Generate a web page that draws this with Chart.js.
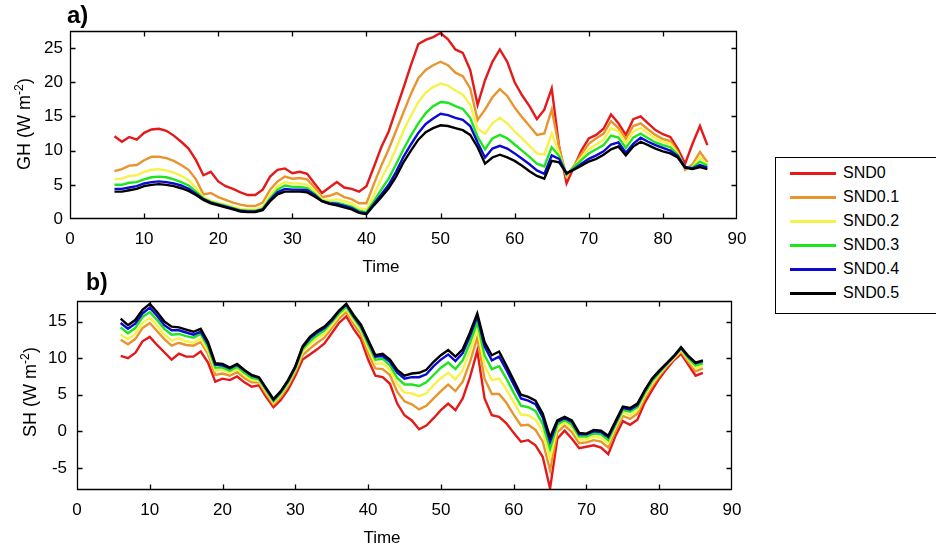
<!DOCTYPE html>
<html>
<head>
<meta charset="utf-8">
<script src="https://cdn.jsdelivr.net/npm/chart.js@4.4.0/dist/chart.umd.min.js"></script>
<style>
html,body{margin:0;padding:0;background:#fff;width:936px;height:548px;overflow:hidden;}
body{font-family:"Liberation Sans",Arial,Helvetica,sans-serif;color:#000;}
#wrap{position:relative;width:936px;height:548px;overflow:hidden;}
canvas{position:absolute;left:0;}
.t{position:absolute;white-space:nowrap;line-height:1;}
.rot{transform:translate(-50%,-50%) rotate(-90deg);}
.ctr{transform:translate(-50%,-50%);}
.sup{font-size:0.68em;position:relative;top:-0.55em;}
#legend{position:absolute;left:775px;top:157px;width:200px;height:157px;border:1px solid #000;background:#fff;box-sizing:border-box;}
.li{position:absolute;left:0;height:24px;width:200px;}
.li .ln{position:absolute;left:14px;width:46px;height:3px;top:10px;}
.li .tx{position:absolute;left:67px;top:3px;font-size:16px;line-height:1;}
</style>
</head>
<body>
<div id="wrap">
  <canvas id="cA" width="760" height="280" style="top:0px;width:760px;height:280px"></canvas>
  <canvas id="cB" width="760" height="268" style="top:280px;width:760px;height:268px"></canvas>
  <div class="t" style="left:67px;top:3px;font-size:24px;font-weight:bold;">a)</div>
  <div class="t" style="left:86px;top:271px;font-size:23px;font-weight:bold;">b)</div>
  <div class="t rot" style="left:24px;top:124px;font-size:18px;">GH (W m<span class="sup">-2</span>)</div>
  <div class="t rot" style="left:30px;top:392px;font-size:18px;">SH (W m<span class="sup">-2</span>)</div>
  <div class="t ctr" style="left:381px;top:266px;font-size:17px;">Time</div>
  <div class="t ctr" style="left:382px;top:537px;font-size:17px;">Time</div>
  <div id="legend"></div>
</div>
<script>
// ---------------- data ----------------
const time = [6,7,8,9,10,11,12,13,14,15,16,17,18,19,20,21,22,23,24,25,26,27,28,29,30,31,32,33,34,35,36,37,38,39,40,41,42,43,44,45,46,47,48,49,50,51,52,53,54,55,56,57,58,59,60,61,62,63,64,65,66,67,68,69,70,71,72,73,74,75,76,77,78,79,80,81,82,83,84,85,86];

const seriesNames = ['SND0','SND0.1','SND0.2','SND0.3','SND0.4','SND0.5'];
const seriesColors = ['#e41a1a','#e8942f','#f7f24a','#1ee61e','#0a0ad2','#000000'];

const xTicks = [0,10,20,30,40,50,60,70,80,90];
const ghTicks = [0,5,10,15,20,25];
const shTicks = [-5,0,5,10,15];

// Panel a) GH
const ghSND0 = [12.1,11.3,12.0,11.6,12.6,13.1,13.2,12.9,12.2,11.3,
  10.3,8.6,6.4,6.9,5.5,4.8,4.4,3.9,3.5,3.5,
  4.3,6.2,7.2,7.4,6.7,6.9,6.6,5.2,3.8,4.6,
  5.4,4.6,4.4,4.0,4.8,7.6,10.5,12.8,16.0,19.2,
  22.5,25.6,26.2,26.6,27.2,26.3,24.8,24.3,21.8,16.7,
  20.3,23.0,24.8,23.0,20.0,18.1,16.5,14.6,16.0,19.1,
  10.6,5.2,7.6,10.0,11.8,12.3,13.2,15.3,14.0,12.3,
  14.6,15.0,14.0,13.0,12.4,12.0,10.3,8.1,11.0,13.6,10.8];
const ghSND0_1 = [7.0,7.3,7.8,7.9,8.6,9.1,9.1,8.9,8.5,7.9,
  7.2,5.8,3.6,3.8,3.2,2.8,2.4,2.1,1.9,1.9,
  2.4,4.3,5.5,6.2,5.9,6.0,5.8,4.6,3.2,3.4,
  3.8,3.2,2.9,2.3,2.3,5.1,7.8,10.2,12.9,15.6,
  18.3,20.6,21.8,22.5,23.0,22.5,21.4,20.9,19.1,14.5,
  16.0,17.8,19.0,18.0,16.3,14.9,13.6,12.3,12.5,16.0,
  10.5,6.2,7.8,9.5,11.0,11.8,12.5,14.3,13.3,11.7,
  13.6,14.0,13.1,12.3,11.7,11.4,9.8,7.2,8.0,9.8,8.3];
const ghSND0_2 = [5.8,5.9,6.3,6.4,6.9,7.2,7.3,7.1,6.8,6.3,
  5.7,4.6,3.2,2.7,2.4,2.1,1.8,1.5,1.4,1.4,
  1.8,3.5,4.8,5.4,5.2,5.2,5.0,4.1,2.9,2.7,
  2.9,2.6,2.3,1.6,1.4,3.5,5.9,7.9,10.3,12.9,
  15.1,17.1,18.5,19.3,19.8,19.5,18.8,18.2,16.7,13.2,
  12.5,14.0,14.8,14.0,12.8,11.8,10.7,9.6,9.4,12.5,
  9.6,6.3,7.6,9.0,10.2,10.9,11.6,13.3,12.8,11.1,
  12.8,13.3,12.5,11.8,11.3,11.0,9.6,7.5,7.6,9.0,8.0];
const ghSND0_3 = [5.0,5.0,5.3,5.4,5.8,6.1,6.2,6.1,5.8,5.4,
  4.9,4.0,3.0,2.5,2.2,1.9,1.6,1.3,1.2,1.2,
  1.5,3.0,4.3,4.9,4.7,4.7,4.5,3.7,2.7,2.4,
  2.4,2.1,1.8,1.2,1.0,2.6,4.3,5.9,8.0,10.2,
  12.2,14.0,15.5,16.5,17.1,17.0,16.5,16.1,14.8,12.0,
  10.2,11.8,12.3,11.8,10.9,10.0,9.1,8.1,7.7,10.5,
  9.2,6.5,7.6,8.6,9.6,10.2,10.8,12.2,11.9,10.4,
  11.9,12.5,11.8,11.2,10.8,10.5,9.4,7.6,7.5,8.4,7.8];
const ghSND0_4 = [4.4,4.4,4.6,4.8,5.2,5.4,5.5,5.4,5.2,4.9,
  4.4,3.7,2.9,2.4,2.1,1.8,1.5,1.2,1.1,1.1,
  1.4,2.8,3.9,4.4,4.3,4.3,4.2,3.5,2.6,2.3,
  2.2,1.9,1.6,1.0,0.8,2.2,3.6,5.0,6.9,9.1,
  10.9,12.6,13.9,14.7,15.4,15.2,14.8,14.5,13.6,11.2,
  9.0,10.3,10.7,10.3,9.6,8.8,8.0,7.1,6.6,9.3,
  8.8,6.6,7.3,8.1,8.8,9.3,9.9,10.9,11.2,9.7,
  11.0,11.9,11.3,10.8,10.4,10.0,9.2,7.6,7.4,7.9,7.5];
const ghSND0_5 = [4.0,4.0,4.2,4.4,4.8,5.0,5.1,5.0,4.8,4.5,
  4.1,3.5,2.8,2.3,2.0,1.7,1.4,1.1,1.0,1.0,
  1.3,2.6,3.6,4.0,4.0,4.0,3.9,3.3,2.6,2.2,
  2.0,1.7,1.4,0.9,0.7,2.0,3.2,4.5,6.2,8.3,
  10.0,11.6,12.7,13.3,13.7,13.6,13.3,13.0,12.3,10.5,
  8.1,9.0,9.4,9.0,8.5,7.8,7.0,6.3,5.9,8.5,
  8.3,6.7,7.2,7.8,8.4,8.8,9.4,10.2,10.6,9.3,
  10.6,11.3,10.8,10.3,9.9,9.6,9.0,7.5,7.3,7.6,7.3];

// Panel b) SH
const shSND0 = [10.3,10.0,10.7,12.3,12.9,11.8,10.8,9.8,10.6,10.2,
  10.2,10.9,9.4,6.8,7.2,7.0,7.5,6.7,6.1,6.3,
  4.7,3.3,4.3,5.7,7.6,9.8,10.5,11.2,12.0,13.4,
  14.8,15.7,14.0,12.6,9.8,7.6,7.4,6.5,3.8,2.2,
  1.5,0.3,0.8,1.8,2.9,3.8,2.9,4.5,7.4,11.0,
  4.5,2.2,2.0,1.1,-0.2,-1.4,-1.2,-1.9,-3.5,-7.8,
  -1.0,0.1,-1.0,-2.3,-2.1,-1.9,-2.2,-3.1,-0.6,1.4,
  0.9,1.6,3.9,5.6,7.2,8.5,9.7,10.6,9.1,7.6,8.0];
const shSND0_1 = [12.5,11.9,12.6,14.1,14.8,13.7,12.6,11.7,12.1,11.8,
  11.7,12.2,10.6,7.7,7.9,7.6,8.1,7.3,6.7,6.7,
  5.1,3.7,4.7,6.2,8.1,10.4,11.3,12.1,12.8,14.1,
  15.4,16.3,14.7,13.3,10.7,8.6,8.5,7.7,5.4,4.1,
  3.7,3.0,3.5,4.5,5.5,6.4,5.5,6.8,9.5,12.8,
  7.2,5.1,5.1,3.9,2.3,0.8,0.9,0.2,-1.4,-5.3,
  -0.1,0.8,-0.1,-1.6,-1.5,-1.2,-1.4,-2.2,0.1,2.1,
  1.7,2.4,4.5,6.2,7.6,8.8,9.9,10.9,9.5,8.2,8.6];
const shSND0_2 = [13.2,12.6,13.3,14.8,15.5,14.4,13.2,12.4,12.7,12.3,
  12.1,12.7,11.0,8.3,8.4,8.0,8.5,7.7,7.0,6.9,
  5.4,3.9,5.0,6.5,8.4,10.8,11.9,12.7,13.3,14.5,
  15.8,16.7,15.1,13.8,11.4,9.2,9.3,8.4,6.5,5.3,
  5.2,4.8,5.2,6.3,7.3,8.0,7.1,8.4,11.0,14.0,
  9.0,7.0,7.2,5.7,4.0,2.3,2.2,1.6,-0.1,-3.7,
  0.5,1.2,0.5,-1.1,-1.1,-0.7,-0.9,-1.6,0.6,2.6,
  2.2,2.9,4.9,6.5,7.8,9.0,10.0,11.1,9.8,8.6,9.0];
const shSND0_3 = [14.2,13.4,14.1,15.6,16.3,15.2,14.0,13.2,13.3,13.0,
  12.8,13.3,11.5,8.7,8.7,8.3,8.8,8.0,7.3,7.1,
  5.6,4.1,5.2,6.7,8.6,11.2,12.3,13.1,13.8,14.9,
  16.1,17.0,15.5,14.1,11.9,9.8,9.9,9.0,7.3,6.4,
  6.4,6.2,6.7,7.7,8.7,9.4,8.5,9.7,12.1,14.9,
  10.4,8.5,8.9,7.2,5.3,3.5,3.3,2.8,1.0,-2.4,
  0.9,1.6,0.9,-0.7,-0.7,-0.3,-0.4,-1.2,0.9,2.9,
  2.7,3.3,5.2,6.8,8.0,9.1,10.2,11.3,10.0,9.0,9.3];
const shSND0_4 = [14.8,14.0,14.7,16.1,16.9,15.8,14.5,13.8,13.8,13.5,
  13.2,13.6,11.9,9.1,9.0,8.6,9.1,8.3,7.6,7.3,
  5.8,4.3,5.4,6.9,8.8,11.5,12.7,13.5,14.1,15.1,
  16.4,17.3,15.7,14.4,12.3,10.2,10.3,9.5,8.0,7.2,
  7.4,7.4,7.8,8.9,9.8,10.5,9.6,10.7,13.0,15.7,
  11.6,9.7,10.2,8.4,6.4,4.5,4.2,3.7,1.9,-1.4,
  1.3,1.8,1.3,-0.4,-0.4,0.0,-0.1,-0.8,1.2,3.2,
  3.0,3.6,5.5,7.1,8.2,9.2,10.2,11.4,10.2,9.3,9.6];
const shSND0_5 = [15.4,14.5,15.2,16.6,17.4,16.3,15.0,14.3,14.2,13.9,
  13.6,14.0,12.2,9.3,9.2,8.7,9.2,8.4,7.7,7.4,
  5.9,4.4,5.5,7.0,8.9,11.6,12.9,13.7,14.3,15.3,
  16.5,17.4,15.9,14.6,12.5,10.4,10.6,9.8,8.4,7.6,
  7.9,8.0,8.4,9.5,10.4,11.1,10.2,11.2,13.5,16.1,
  12.2,10.4,10.9,9.0,7.0,5.0,4.7,4.2,2.4,-0.8,
  1.5,2.0,1.5,-0.2,-0.3,0.2,0.1,-0.6,1.4,3.4,
  3.2,3.8,5.6,7.2,8.3,9.3,10.3,11.5,10.3,9.4,9.7];

const ghSeries = [ghSND0, ghSND0_1, ghSND0_2, ghSND0_3, ghSND0_4, ghSND0_5];
const shSeries = [shSND0, shSND0_1, shSND0_2, shSND0_3, shSND0_4, shSND0_5];

// ---------------- chart building ----------------
const FONT = '"Liberation Sans", Arial, Helvetica, sans-serif';

function makeDatasets(series) {
  return series.map((vals, i) => ({
    label: seriesNames[i],
    data: vals.map((v, j) => ({ x: time[j], y: v })),
    borderColor: seriesColors[i],
    backgroundColor: seriesColors[i],
    borderWidth: 2.4,
    pointRadius: 0,
    tension: 0,
    fill: false,
    order: seriesNames.length - i
  }));
}

const framePlugin = {
  id: 'frame',
  afterDatasetsDraw(chart) {
    const { ctx, chartArea: a, scales } = chart;
    const L = Math.round(a.left) + 0.5, R = Math.round(a.right) - 0.5;
    const T = Math.round(a.top) + 0.5, B = Math.round(a.bottom) - 0.5;
    const len = 5;
    ctx.save();
    ctx.strokeStyle = '#000';
    ctx.lineWidth = 1.3;
    ctx.beginPath();
    ctx.rect(L, T, R - L, B - T);
    scales.x.ticks.forEach(t => {
      const px = Math.round(scales.x.getPixelForValue(t.value)) + 0.5;
      if (px <= L + 1 || px >= R - 1) return;
      ctx.moveTo(px, B); ctx.lineTo(px, B - len);
      ctx.moveTo(px, T); ctx.lineTo(px, T + len);
    });
    scales.y.ticks.forEach(t => {
      const py = Math.round(scales.y.getPixelForValue(t.value)) + 0.5;
      if (py <= T + 1 || py >= B - 1) return;
      ctx.moveTo(L, py); ctx.lineTo(L + len, py);
      ctx.moveTo(R, py); ctx.lineTo(R - len, py);
    });
    ctx.stroke();
    ctx.restore();
  }
};

function makeChart(id, series, cfg) {
  return new Chart(document.getElementById(id), {
    type: 'line',
    data: { datasets: makeDatasets(series) },
    options: {
      responsive: false,
      animation: false,
      devicePixelRatio: 1,
      events: [],
      layout: { padding: { top: cfg.padTop, right: cfg.padRight, left: 0, bottom: 0 } },
      plugins: { legend: { display: false }, tooltip: { enabled: false } },
      scales: {
        x: {
          type: 'linear', min: xTicks[0], max: xTicks[xTicks.length - 1],
          grid: { display: false, drawTicks: false, tickLength: 0 }, border: { display: false },
          afterBuildTicks: s => { s.ticks = xTicks.map(v => ({ value: v })); },
          ticks: { color: '#000', font: { family: FONT, size: 17 }, padding: cfg.xPad, maxRotation: 0, autoSkip: false },
          afterFit: s => { s.height = cfg.xH; }
        },
        y: {
          type: 'linear', min: cfg.ymin, max: cfg.ymax,
          grid: { display: false, drawTicks: false, tickLength: 0 }, border: { display: false },
          afterBuildTicks: s => { s.ticks = cfg.yTicks.map(v => ({ value: v })); },
          ticks: { color: '#000', font: { family: FONT, size: 17 }, padding: cfg.yPad, autoSkip: false },
          afterFit: s => { s.width = cfg.yW; }
        }
      }
    },
    plugins: [framePlugin]
  });
}

makeChart('cA', ghSeries, { padTop: 31, padRight: 23, xH: 61, yW: 70, ymin: 0, ymax: 27.5, yTicks: ghTicks, xPad: 10, yPad: 7 });
makeChart('cB', shSeries, { padTop: 21, padRight: 28, xH: 58, yW: 77, ymin: -8, ymax: 17.8, yTicks: shTicks, xPad: 10, yPad: 10 });

// legend
const leg = document.getElementById('legend');
seriesNames.forEach((n, i) => {
  const d = document.createElement('div');
  d.className = 'li';
  d.style.top = (4 + i * 24) + 'px';
  d.innerHTML = '<div class="ln" style="background:' + seriesColors[i] + '"></div><div class="tx">' + n + '</div>';
  leg.appendChild(d);
});
</script>
</body>
</html>
